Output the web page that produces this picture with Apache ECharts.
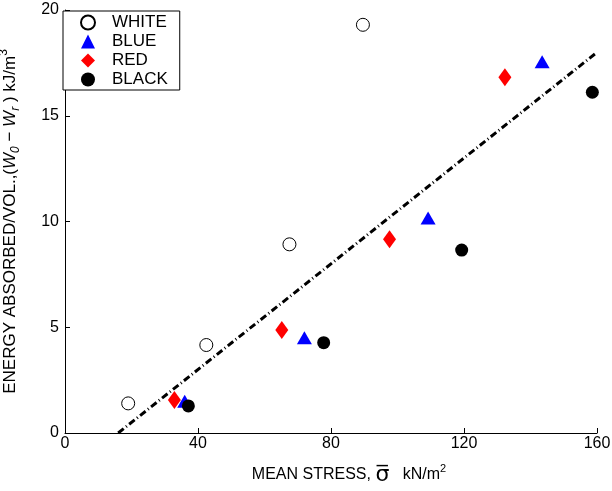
<!DOCTYPE html>
<html>
<head>
<meta charset="utf-8">
<script src="https://cdn.jsdelivr.net/npm/echarts@6/dist/echarts.min.js"></script>
<style>html,body{margin:0;padding:0;background:#fff;}#c{width:612px;height:491px;}</style>
</head>
<body>
<div id="c"></div>
<script>
var whiteX = [19.0, 42.5, 67.5, 89.6];
var whiteY = [1.40, 4.16, 8.92, 19.30];
var blueX = [36.0, 72.0, 109.2, 143.5];
var blueY = [1.50, 4.50, 10.17, 17.55];
var redX = [32.9, 65.2, 97.6, 132.3];
var redY = [1.56, 4.87, 9.16, 16.82];
var blackX = [37.1, 77.8, 119.3, 158.6];
var blackY = [1.28, 4.27, 8.65, 16.11];
var fitX = [16, 160];
var fitY = [0, 18];
var xTicks = [0, 40, 80, 120, 160];
var yTicks = [0, 5, 10, 15, 20];

function pairs(xs, ys) { return xs.map(function (x, i) { return [x, ys[i]]; }); }

var FONT = '"Liberation Sans", Arial, sans-serif';
var chart = echarts.init(document.getElementById('c'), null, {renderer: 'canvas'});
chart.setOption({
  animation: false,
  backgroundColor: '#fff',
  textStyle: {fontFamily: FONT},
  grid: {left: 65, right: 15, top: 10, bottom: 58, containLabel: false, outerBoundsMode: 'none'},
  legend: {
    left: 63, top: 11, orient: 'vertical',
    backgroundColor: '#fff',
    borderColor: '#000', borderWidth: 1,
    padding: [3, 12, 2, 17],
    itemWidth: 14, itemHeight: 14, itemGap: 2,
    textStyle: {fontFamily: FONT, fontSize: 17, color: '#000', padding: [0, 0, 0, 12]},
    data: ['WHITE', 'BLUE', 'RED', 'BLACK']
  },
  xAxis: {
    type: 'value', min: xTicks[0], max: xTicks[xTicks.length - 1], interval: 40,
    axisLine: {show: true, lineStyle: {color: '#000', width: 1}},
    axisTick: {show: true, inside: true, length: 5, lineStyle: {color: '#000'}},
    splitLine: {show: false},
    axisLabel: {fontSize: 16, color: '#000', margin: 3, fontFamily: FONT},
    name: '{t|MEAN STRESS, }{s|σ̅}{t|   kN/m}{p|2}',
    nameLocation: 'middle', nameGap: 30,
    nameTextStyle: {
      fontFamily: FONT, color: '#000', padding: [0, 0, 0, 36],
      rich: {
        t: {fontSize: 16, fontFamily: FONT, color: '#000', lineHeight: 24},
        s: {fontSize: 22, fontFamily: 'DejaVu Sans', color: '#000', lineHeight: 24},
        p: {fontSize: 11, fontFamily: FONT, color: '#000', verticalAlign: 'top', lineHeight: 24}
      }
    }
  },
  yAxis: {
    type: 'value', min: yTicks[0], max: yTicks[yTicks.length - 1], interval: 5,
    axisLine: {show: true, lineStyle: {color: '#000', width: 1}},
    axisTick: {show: true, inside: true, length: 5, lineStyle: {color: '#000'}},
    splitLine: {show: false},
    axisLabel: {fontSize: 16, color: '#000', margin: 6, fontFamily: FONT},
    name: '{t|ENERGY ABSORBED/VOL.,(}{i|W}{b|0}{t| − }{i|W}{b|r}{t| ) kJ/m}{p|3}',
    nameLocation: 'middle', nameGap: 43,
    nameTextStyle: {
      fontFamily: FONT, color: '#000',
      rich: {
        t: {fontSize: 17, fontFamily: FONT, color: '#000', lineHeight: 24},
        i: {fontSize: 17, fontFamily: FONT, fontStyle: 'italic', color: '#000', lineHeight: 24},
        b: {fontSize: 12, fontFamily: FONT, fontStyle: 'italic', color: '#000', verticalAlign: 'bottom', lineHeight: 24},
        p: {fontSize: 12, fontFamily: FONT, color: '#000', verticalAlign: 'top', lineHeight: 24}
      }
    }
  },
  series: [
    {
      name: 'FIT', type: 'line', data: pairs(fitX, fitY), symbol: 'none', z: 1,
      lineStyle: {color: '#000', width: 3, type: [7, 3, 1, 3]}, silent: true
    },
    {
      name: 'WHITE', type: 'scatter', data: pairs(whiteX, whiteY), symbol: 'circle', symbolSize: 13, z: 3,
      itemStyle: {color: '#fff', borderColor: '#000', borderWidth: 1, opacity: 1}
    },
    {
      name: 'BLUE', type: 'scatter', data: pairs(blueX, blueY), symbol: 'triangle', symbolSize: [15, 13], z: 3,
      itemStyle: {color: '#0000ff', opacity: 1}
    },
    {
      name: 'RED', type: 'scatter', data: pairs(redX, redY), symbol: 'diamond', symbolSize: [13, 18], z: 3,
      itemStyle: {color: '#ff0000', opacity: 1}
    },
    {
      name: 'BLACK', type: 'scatter', data: pairs(blackX, blackY), symbol: 'circle', symbolSize: 13, z: 3,
      itemStyle: {color: '#000', opacity: 1}
    }
  ]
});
</script>
</body>
</html>
